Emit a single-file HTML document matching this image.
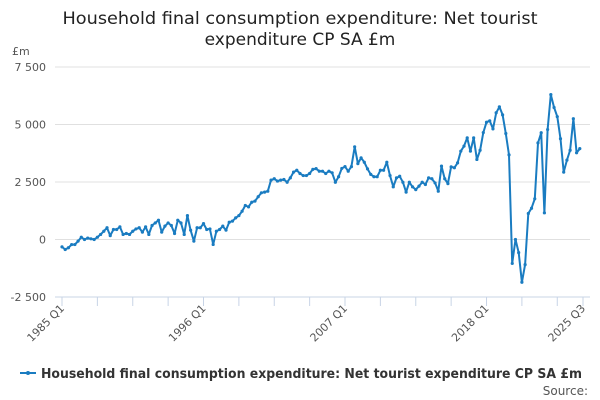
<!DOCTYPE html>
<html><head><meta charset="utf-8"><style>
body{margin:0;background:#fff;font-family:"DejaVu Sans","Liberation Sans",sans-serif}
svg{display:block}
text{font-family:"DejaVu Sans","Liberation Sans",sans-serif}
</style></head><body>
<svg id="chart" width="600" height="400">
<text x="300" y="24" text-anchor="middle" font-size="17" fill="#222" textLength="475" lengthAdjust="spacingAndGlyphs">Household final consumption expenditure: Net tourist</text>
<text x="300" y="45" text-anchor="middle" font-size="17" fill="#222">expenditure CP SA £m</text>
<text x="12" y="55" font-size="11" fill="#555">£m</text>
<g id="grid"></g><g id="xaxis"></g><g id="series"></g>
<g>
<line x1="20" y1="373" x2="36" y2="373" stroke="#1a7cc1" stroke-width="2"/>
<circle cx="28" cy="373" r="2" fill="#1a7cc1"/>
<text x="41" y="378" font-size="13" font-weight="bold" fill="#333" textLength="541" lengthAdjust="spacingAndGlyphs">Household final consumption expenditure: Net tourist expenditure CP SA £m</text>
</g>
<text x="588" y="395" text-anchor="end" font-size="12" fill="#555">Source:</text>
</svg>
<script>
const values=[-320,-435,-360,-220,-220,-70,100,0,60,30,0,100,220,360,510,170,435,435,550,220,260,220,360,460,510,320,550,220,610,720,840,320,580,720,610,260,840,720,220,1040,405,-70,510,510,
690,435,460,-215,360,435,580,405,750,800,940,1040,1230,1480,1420,1620,1670,1860,2030,2060,2100,2580,2640,2540,2580,2610,2490,2680,2930,3010,2870,2780,2780,2870,3050,3080,2970,2970,2870,2970,2900,2490,
2730,3090,3170,2970,3170,4030,3300,3550,3360,3070,2830,2730,2730,3010,3010,3360,2780,2290,2680,2750,2490,2060,2490,2290,2170,2320,2490,2390,2680,2640,2460,2100,3190,2640,2430,3160,3120,3330,3840,4060,4420,3840,4420,
3480,3880,4650,5100,5160,4810,5510,5770,5420,4610,3680,-1040,0,-570,-1860,-1090,1130,1360,1770,4200,4640,1160,4780,6300,5740,5340,4380,2930,3450,3880,5250,3770,3950];
const yTicks=[-2500,0,2500,5000,7500];
const yTickLabels=["-2 500","0","2 500","5 000","7 500"];
const xTickLabels=["1985 Q1","1996 Q1","2007 Q1","2018 Q1","2025 Q3"];
const xTickIdx=[0,44,88,132,162];
const NS="http://www.w3.org/2000/svg";
const x0=62,x1=583,yTop=67,yBot=297;
const nSlots=163;
function xs(i){return x0+i*(x1-x0)/(nSlots-1);}
function ys(v){return yBot-(v+2500)/10000*(yBot-yTop);}
function mk(t,a,p){const e=document.createElementNS(NS,t);for(const k in a)e.setAttribute(k,a[k]);p.appendChild(e);return e;}
const grid=document.getElementById('grid');
yTicks.forEach((t,i)=>{
 const y=ys(t);
 if(i>0){const l=mk('line',{x1:55,x2:590,y1:y,y2:y,stroke:'#e0e0e0','stroke-width':1},grid);
 
 }
 const tx=mk('text',{x:46,y:y+4,'text-anchor':'end','font-size':11,fill:'#555'},grid);
 tx.textContent=yTickLabels[i];
 
 
});
const xa=document.getElementById('xaxis');
const al=mk('line',{x1:55,x2:590,y1:yBot,y2:yBot,stroke:'#c8d4e6','stroke-width':1},xa);


for(let i=0;i<nSlots;i+=11){
 const tk=mk('line',{x1:xs(i),x2:xs(i),y1:yBot,y2:yBot+9,stroke:'#c8d4e6'},xa);
 
 
}
{const tk=mk('line',{x1:xs(162),x2:xs(162),y1:yBot,y2:yBot+9,stroke:'#c8d4e6'},xa);
 
 }
xTickIdx.forEach((idx,i)=>{
 const x=xs(idx);
 const t=mk('text',{x:x+3,y:yBot+12,'text-anchor':'end','font-size':11,fill:'#555',transform:`rotate(-45 ${x+3} ${yBot+12})`},xa);
 t.textContent=xTickLabels[i];
 
 
});
const s=document.getElementById('series');
const pts=values.map((v,i)=>xs(i).toFixed(1)+','+ys(v).toFixed(1)).join(' ');
const pl=mk('polyline',{points:pts,fill:'none',stroke:'#1a7cc1','stroke-width':2,'stroke-linejoin':'round'},s);


values.forEach((v,i)=>{
 const c=mk('circle',{cx:xs(i),cy:ys(v),r:1.6,fill:'#1a7cc1'},s);
 
 
});
</script>
</body></html>
